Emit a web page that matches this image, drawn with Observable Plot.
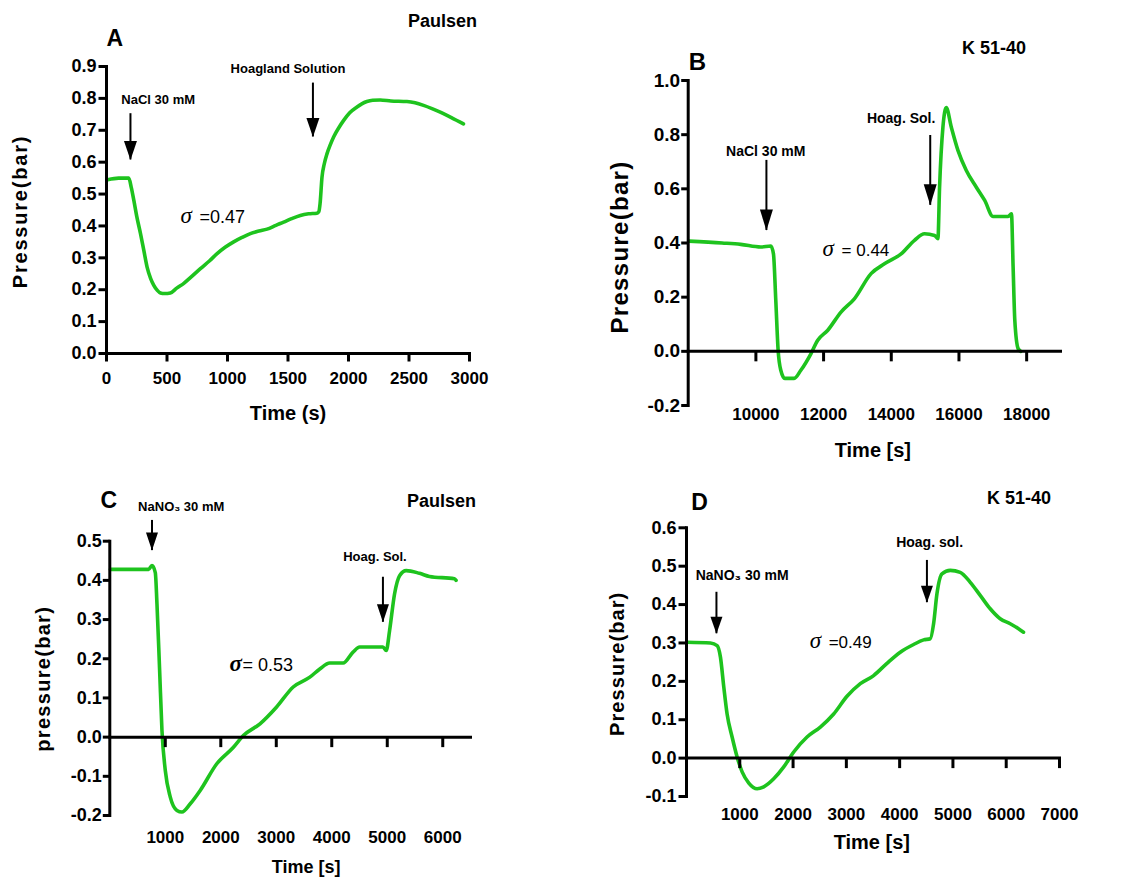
<!DOCTYPE html>
<html><head><meta charset="utf-8">
<script src="https://cdn.jsdelivr.net/npm/d3@7"></script>
<script src="https://cdn.jsdelivr.net/npm/@observablehq/plot@0.6"></script>
<style>
body{margin:0;background:#fff;}
#wrap{position:relative;width:1127px;height:879px;background:#fff;}
.row{display:flex;flex-direction:row;align-items:flex-start;}
.cell{flex:none;}
.ttl{position:absolute;font:bold 18px "Liberation Sans",Arial,sans-serif;line-height:20px;color:#000;white-space:nowrap;}
</style></head><body><div id="wrap">
<div class="row" style="height:470px"><div class="cell" id="pA" style="width:560px;height:470px"></div><div class="cell" id="pB" style="width:567px;height:470px"></div></div>
<div class="row" style="height:409px"><div class="cell" id="pC" style="width:560px;height:409px"></div><div class="cell" id="pD" style="width:567px;height:409px"></div></div>
<div class="ttl" style="left:408px;top:11px">Paulsen</div>
<div class="ttl" style="left:962px;top:38px">K 51-40</div>
<div class="ttl" style="left:407px;top:491px">Paulsen</div>
<div class="ttl" style="left:987px;top:488px">K 51-40</div>
</div>
<script>
// ---------- Panel A : Paulsen, NaCl ----------
const aTime = [10, 100, 184, 205, 226, 250, 281, 310, 336, 365,
  391, 420, 446, 480, 528, 580, 639, 700, 776, 850,
  914, 980, 1051, 1120, 1189, 1260, 1327, 1400, 1464, 1530,
  1602, 1670, 1739, 1755, 1765, 1781, 1800, 1822, 1850, 1877,
  1920, 1960, 2010, 2070, 2110, 2152, 2200, 2262, 2350, 2483,
  2550, 2620, 2690, 2758, 2850, 2950];
const aPressure = [0.545, 0.55, 0.55, 0.52, 0.48, 0.43, 0.376, 0.32, 0.27, 0.235,
  0.214, 0.198, 0.19, 0.188, 0.19, 0.205, 0.22, 0.24, 0.266, 0.29,
  0.313, 0.333, 0.35, 0.364, 0.376, 0.384, 0.39, 0.402, 0.412, 0.423,
  0.433, 0.438, 0.44, 0.445, 0.47, 0.553, 0.595, 0.626, 0.655, 0.679,
  0.708, 0.731, 0.755, 0.773, 0.783, 0.79, 0.794, 0.795, 0.792, 0.79,
  0.786, 0.778, 0.768, 0.757, 0.74, 0.72];
const aXTicks = [0, 500, 1000, 1500, 2000, 2500, 3000];
const aYTicks = [0, 0.1, 0.2, 0.3, 0.4, 0.5, 0.6, 0.7, 0.8, 0.9];
const aEvents = ["NaCl 30 mM", "Hoagland Solution"];
const aEventX = [427, 1500];
const aEventY = [0.796, 0.8925];
const aArrowX = [198, 1706];
const aArrowTop = [0.752, 0.848];
const aArrowTip = [0.607, 0.679];

// ---------- Panel B : K 51-40, NaCl ----------
const bTime = [8020, 9000, 9551, 10143, 10440, 10519, 10588, 10657, 10736, 10854,
  11131, 11328, 11625, 11822, 12118, 12514, 12909, 13403, 13798, 14291,
  14686, 14983, 15279, 15378, 15427, 15526, 15625, 15773, 15970, 16217,
  16513, 16761, 17007, 17452, 17551, 17600, 17650, 17748, 17827];
const bPressure = [0.407, 0.40, 0.395, 0.385, 0.389, 0.36, 0.188, 0.004, -0.07, -0.10,
  -0.10, -0.07, -0.009, 0.04, 0.077, 0.145, 0.194, 0.287, 0.323, 0.36,
  0.41, 0.434, 0.428, 0.416, 0.606, 0.828, 0.90, 0.828, 0.742, 0.668,
  0.606, 0.557, 0.498, 0.498, 0.508, 0.311, 0.114, 0.01, 0.0];
const bXTicks = [10000, 12000, 14000, 16000, 18000];
const bYTicks = [-0.2, 0, 0.2, 0.4, 0.6, 0.8, 1.0];
const bEvents = ["NaCl 30 mM", "Hoag. Sol."];
const bEventX = [10291, 14291];
const bEventY = [0.736, 0.859];
const bArrowX = [10311, 15151];
const bArrowTop = [0.705, 0.797];
const bArrowTip = [0.446, 0.539];

// ---------- Panel C : Paulsen, NaNO3 ----------
const cTime = [10, 300, 700, 760, 820, 850, 898, 940, 1000, 1090,
  1210, 1300, 1450, 1629, 1928, 2228, 2407, 2707, 3006, 3305,
  3605, 3784, 3964, 4204, 4383, 4503, 4922, 4982, 5042, 5132,
  5222, 5341, 5581, 5760, 6210, 6240];
const cPressure = [0.428, 0.428, 0.428, 0.438, 0.42, 0.34, 0.17, 0.017, -0.085, -0.153,
  -0.187, -0.191, -0.17, -0.136, -0.068, -0.026, 0.004, 0.034, 0.077, 0.128,
  0.153, 0.174, 0.189, 0.189, 0.217, 0.23, 0.23, 0.221, 0.272, 0.366,
  0.412, 0.425, 0.418, 0.41, 0.404, 0.40];
const cXTicks = [1000, 2000, 3000, 4000, 5000, 6000];
const cYTicks = [-0.2, -0.1, 0, 0.1, 0.2, 0.3, 0.4, 0.5];
const cEvents = ["NaNO\u2083 30 mM", "Hoag. Sol."];
const cEventX = [1287, 4778];
const cEventY = [0.587, 0.459];
const cArrowX = [760, 4922];
const cArrowTop = [0.553, 0.408];
const cArrowTip = [0.476, 0.293];

// ---------- Panel D : K 51-40, NaNO3 ----------
const dTime = [10, 450, 575, 637, 700, 762, 856, 950, 1044, 1169,
  1325, 1450, 1637, 1825, 2012, 2262, 2512, 2762, 3012, 3262,
  3512, 3762, 4012, 4262, 4450, 4575, 4637, 4700, 4794, 4950,
  5137, 5325, 5512, 5700, 5887, 6075, 6231, 6325];
const dPressure = [0.302, 0.30, 0.293, 0.263, 0.185, 0.115, 0.055, 0.003, -0.036, -0.065,
  -0.08, -0.075, -0.054, -0.023, 0.016, 0.055, 0.081, 0.115, 0.161, 0.194,
  0.215, 0.247, 0.276, 0.296, 0.308, 0.311, 0.35, 0.428, 0.48, 0.489,
  0.484, 0.458, 0.424, 0.389, 0.363, 0.35, 0.337, 0.328];
const dXTicks = [1000, 2000, 3000, 4000, 5000, 6000, 7000];
const dYTicks = [-0.1, 0, 0.1, 0.2, 0.3, 0.4, 0.5, 0.6];
const dEvents = ["NaNO\u2083 30 mM", "Hoag. sol."];
const dEventX = [1044, 4562];
const dEventY = [0.476, 0.5625];
const dArrowX = [562, 4512];
const dArrowTop = [0.432, 0.515];
const dArrowTip = [0.324, 0.405];

// ---------- sigma values ----------
const sigmaText = ["=0.47", "= 0.44", "= 0.53", "=0.49"];
const sigmaX = [611, 11970, 2156, 2312];
const sigmaY = [0.409, 0.351, 0.170, 0.287];

const GREEN = "#1ec31e";
const INK = "black";
const SANS = "Liberation Sans, Arial, Helvetica, sans-serif";
const SERIF = "Liberation Serif, Times New Roman, serif";

function arrowHead(w, h) {
  return {draw(ctx) { ctx.moveTo(-w / 2, -h); ctx.lineTo(w / 2, -h); ctx.lineTo(0, 0); ctx.closePath(); }};
}
function box(x, y, w, h) {
  return {draw(ctx) { ctx.moveTo(x, y); ctx.lineTo(x + w, y); ctx.lineTo(x + w, y + h); ctx.lineTo(x, y + h); ctx.closePath(); }};
}

function panel(c) {
  const series = c.time.map((t, i) => ({t, p: c.pressure[i]}));
  const arrows = c.arrowX.map((x, i) => ({x, top: c.arrowTop[i], tip: c.arrowTip[i]}));
  const events = c.events.map((s, i) => ({s, x: c.eventX[i], y: c.eventY[i]}));
  const sig = [{x: c.sigX, y: c.sigY, s: c.sigText}];
  const [x0, x1] = c.xDomain, [y0, y1] = c.yDomain;
  const frameW = c.w - c.m[0] - c.m[1];
  const frameH = c.h - c.m[2] - c.m[3];
  const xTickBase = c.xAtBottom ? y0 : 0;
  const xTickLen = c.xAtBottom ? 8 : 10;
  const yAxisLine = [{x: x0, y: y1}];
  const xAxisLine = [{x: x0, y: 0}];
  const yTickData = c.yTicks.map(v => ({x: x0, y: v}));
  const xTickData = c.xTicks.map(v => ({x: v, y: xTickBase}));
  const solid = {fill: INK, stroke: "none", r: 5};
  const marks = [
    Plot.line(series, {x: "t", y: "p", stroke: GREEN, strokeWidth: 3.6, curve: "monotone-x"}),
    Plot.dot(yAxisLine, {x: "x", y: "y", symbol: box(-1.5, -1.5, 3, frameH + 3), ...solid}),
    Plot.dot(xAxisLine, {x: "x", y: "y", symbol: box(-1.5, -1.5, frameW + 3, 3), ...solid}),
    Plot.dot(yTickData, {x: "x", y: "y", symbol: box(-c.yTickSize, -1.5, c.yTickSize, 3), ...solid}),
    Plot.dot(xTickData, {x: "x", y: "y", symbol: box(-1.5, 0, 3, xTickLen), ...solid}),
    Plot.axisY({ticks: c.yTicks, tickSize: 0, tickPadding: c.yTickSize + c.yTickPad, fill: INK,
      tickFormat: d => d.toFixed(1), fontSize: c.yFont, fontWeight: "bold", label: null}),
    Plot.axisX({ticks: c.xTicks, tickSize: 0, tickPadding: c.xTickPad, fill: INK,
      tickFormat: d => String(d), fontSize: 17, fontWeight: "bold", label: null}),
    Plot.ruleX(arrows, {x: "x", y1: "top", y2: "tip", stroke: INK, strokeWidth: 2}),
    Plot.dot(arrows, {x: "x", y: "tip", symbol: arrowHead(c.headW, c.headH), ...solid}),
    Plot.text(events, {x: "x", y: "y", text: "s", fill: INK, fontSize: c.eventFont, fontWeight: "bold"}),
    Plot.text(sig, {x: "x", y: "y", text: () => "\u03C3", fill: INK, fontFamily: SERIF, fontStyle: "italic",
      fontWeight: c.sigBold ? "bold" : "normal", fontSize: 23, textAnchor: "start", lineAnchor: "bottom"}),
    Plot.text(sig, {x: "x", y: "y", text: "s", fill: INK, dx: c.sigDx, fontSize: c.sigFont, textAnchor: "start", lineAnchor: "bottom"}),
    Plot.text([c.letter], {text: d => d, frameAnchor: "top-left", dx: c.letterPos[0], dy: c.letterPos[1],
      textAnchor: "start", lineAnchor: "middle", fill: INK, fontSize: c.letterFont, fontWeight: "bold"}),
    Plot.text([c.ylabel], {text: d => d, frameAnchor: "left", dx: c.ylabelPos[0], dy: c.ylabelPos[1],
      textAnchor: "middle", lineAnchor: "middle", rotate: -90, fill: INK, fontSize: c.ylabelFont, fontWeight: "bold"}),
    Plot.text([c.xlabel], {text: d => d, frameAnchor: "bottom", dx: c.xlabelPos[0], dy: c.xlabelPos[1],
      textAnchor: "middle", lineAnchor: "middle", fill: INK, fontSize: c.xlabelFont, fontWeight: "bold"})
  ];
  const svg = Plot.plot({
    width: c.w, height: c.h,
    marginLeft: c.m[0], marginRight: c.m[1], marginTop: c.m[2], marginBottom: c.m[3],
    x: {domain: c.xDomain}, y: {domain: c.yDomain},
    style: {fontFamily: SANS, background: "white", color: "black"},
    marks
  });
  d3.select(svg).selectAll("text").each(function () {
    if (this.textContent === c.ylabel) this.setAttribute("letter-spacing", c.ylabelLs);
  });
  document.getElementById(c.host).appendChild(svg);
}

panel({
  host: "pA", w: 560, h: 440, m: [106, 91, 66, 87],
  time: aTime, pressure: aPressure, xDomain: [0, 3000], yDomain: [0, 0.9],
  xTicks: aXTicks, yTicks: aYTicks, xAtBottom: true, xTickPad: 18,
  yTickSize: 8, yTickPad: 2, yFont: 18,
  events: aEvents, eventX: aEventX, eventY: aEventY, eventFont: 13,
  arrowX: aArrowX, arrowTop: aArrowTop, arrowTip: aArrowTip, headW: 13, headH: 19,
  sigX: sigmaX[0], sigY: sigmaY[0], sigText: sigmaText[0], sigDx: 19, sigFont: 18, sigBold: false,
  letter: "A", letterPos: [0, -28], letterFont: 23,
  ylabel: "Pressure(bar)", ylabelPos: [-86, 1.5], ylabelFont: 20, ylabelLs: 1.8,
  xlabel: "Time (s)", xlabelPos: [0, 60], xlabelFont: 20
});

panel({
  host: "pB", w: 567, h: 470, m: [127.7, 67, 80, 65],
  time: bTime, pressure: bPressure, xDomain: [8000, 19000], yDomain: [-0.2, 1.0],
  xTicks: bXTicks, yTicks: bYTicks, xAtBottom: false, xTickPad: 2,
  yTickSize: 7, yTickPad: 1, yFont: 19,
  events: bEvents, eventX: bEventX, eventY: bEventY, eventFont: 14,
  arrowX: bArrowX, arrowTop: bArrowTop, arrowTip: bArrowTip, headW: 13, headH: 21,
  sigX: sigmaX[1], sigY: sigmaY[1], sigText: sigmaText[1], sigDx: 19, sigFont: 17, sigBold: false,
  letter: "B", letterPos: [0.6, -18.3], letterFont: 24,
  ylabel: "Pressure(bar)", ylabelPos: [-67.7, 4], ylabelFont: 24, ylabelLs: 1.3,
  xlabel: "Time [s]", xlabelPos: [-1.5, 45], xlabelFont: 20
});

panel({
  host: "pC", w: 560, h: 409, m: [109.3, 90, 70.7, 64],
  time: cTime, pressure: cPressure, xDomain: [0, 6500], yDomain: [-0.2, 0.5],
  xTicks: cXTicks, yTicks: cYTicks, xAtBottom: false, xTickPad: 15,
  yTickSize: 7, yTickPad: 1, yFont: 18,
  events: cEvents, eventX: cEventX, eventY: cEventY, eventFont: 13,
  arrowX: cArrowX, arrowTop: cArrowTop, arrowTip: cArrowTip, headW: 12, headH: 18,
  sigX: sigmaX[2], sigY: sigmaY[2], sigText: sigmaText[2], sigDx: 13, sigFont: 18, sigBold: true,
  letter: "C", letterPos: [-9.3, -40.7], letterFont: 23,
  ylabel: "pressure(bar)", ylabelPos: [-66, 0.4], ylabelFont: 20, ylabelLs: 1.3,
  xlabel: "Time [s]", xlabelPos: [16, 51.7], xlabelFont: 18
});

panel({
  host: "pD", w: 567, h: 409, m: [126, 68, 57.3, 83],
  time: dTime, pressure: dPressure, xDomain: [0, 7000], yDomain: [-0.1, 0.6],
  xTicks: dXTicks, yTicks: dYTicks, xAtBottom: false, xTickPad: 11,
  yTickSize: 8, yTickPad: 2, yFont: 18,
  events: dEvents, eventX: dEventX, eventY: dEventY, eventFont: 14,
  arrowX: dArrowX, arrowTop: dArrowTop, arrowTip: dArrowTip, headW: 12, headH: 17,
  sigX: sigmaX[3], sigY: sigmaY[3], sigText: sigmaText[3], sigDx: 19, sigFont: 17, sigBold: false,
  letter: "D", letterPos: [4.7, -25.6], letterFont: 23,
  ylabel: "Pressure(bar)", ylabelPos: [-69.3, 1.7], ylabelFont: 20, ylabelLs: 1.1,
  xlabel: "Time [s]", xlabelPos: [-1.2, 45.7], xlabelFont: 20
});
</script></body></html>
